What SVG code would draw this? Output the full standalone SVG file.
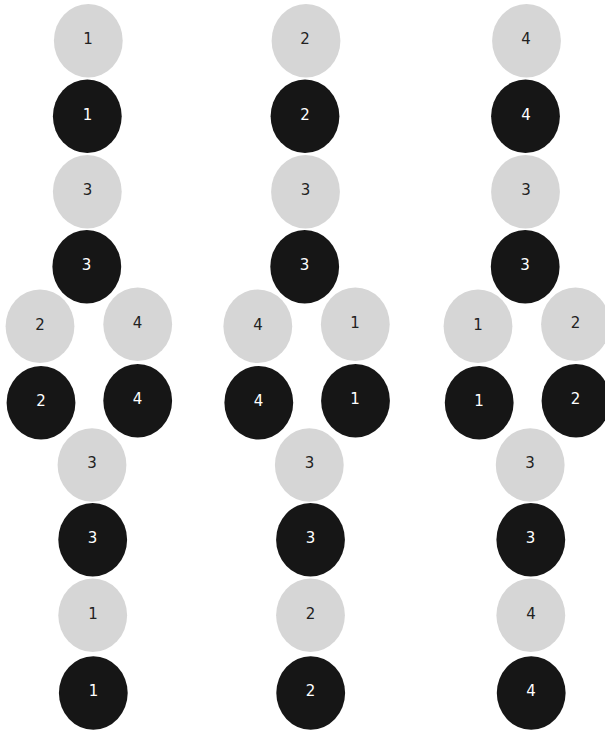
<svg xmlns="http://www.w3.org/2000/svg" width="605" height="733" viewBox="0 0 605 733">
<style>
.l{fill:#d6d6d6}
.d{fill:#161616}
text{font-family:"DejaVu Sans",sans-serif;font-size:15px;text-anchor:middle}
.lt{fill:#222}
.dt{fill:#fff}
</style>
<rect width="605" height="733" fill="#fff"/>
<g id="connectors"/>
<g id="a1"><ellipse class="l" cx="88.3" cy="40.7" rx="34.4" ry="36.8"/><text class="lt" x="88" y="44">1</text></g>
<g id="a2"><ellipse class="d" cx="87.3" cy="116.3" rx="34.4" ry="36.8"/><text class="dt" x="87.5" y="119.5">1</text></g>
<g id="a3"><ellipse class="l" cx="87.3" cy="191.7" rx="34.4" ry="36.8"/><text class="lt" x="87.5" y="195">3</text></g>
<g id="a4"><ellipse class="d" cx="86.8" cy="266.7" rx="34.4" ry="36.8"/><text class="dt" x="86.5" y="270">3</text></g>
<g id="a5"><ellipse class="l" cx="40" cy="326.3" rx="34.4" ry="36.8"/><text class="lt" x="40" y="329.5">2</text></g>
<g id="a6"><ellipse class="l" cx="137.7" cy="324.3" rx="34.4" ry="36.8"/><text class="lt" x="137.5" y="327.5">4</text></g>
<g id="a7"><ellipse class="d" cx="41" cy="402.7" rx="34.4" ry="36.8"/><text class="dt" x="41" y="406">2</text></g>
<g id="a8"><ellipse class="d" cx="137.7" cy="400.7" rx="34.4" ry="36.8"/><text class="dt" x="137.5" y="404">4</text></g>
<g id="a9"><ellipse class="l" cx="92" cy="465" rx="34.4" ry="36.8"/><text class="lt" x="92" y="468">3</text></g>
<g id="a10"><ellipse class="d" cx="92.7" cy="539.7" rx="34.4" ry="36.8"/><text class="dt" x="92.5" y="543">3</text></g>
<g id="a11"><ellipse class="l" cx="92.7" cy="615.3" rx="34.4" ry="36.8"/><text class="lt" x="93" y="618.5">1</text></g>
<g id="a12"><ellipse class="d" cx="93.3" cy="693" rx="34.4" ry="36.8"/><text class="dt" x="93.5" y="696">1</text></g>

<g id="b1"><ellipse class="l" cx="306" cy="40.7" rx="34.4" ry="36.8"/><text class="lt" x="305" y="44">2</text></g>
<g id="b2"><ellipse class="d" cx="305" cy="116.3" rx="34.4" ry="36.8"/><text class="dt" x="305" y="119.5">2</text></g>
<g id="b3"><ellipse class="l" cx="305.5" cy="191.7" rx="34.4" ry="36.8"/><text class="lt" x="305.5" y="195">3</text></g>
<g id="b4"><ellipse class="d" cx="304.7" cy="266.7" rx="34.4" ry="36.8"/><text class="dt" x="304.5" y="270">3</text></g>
<g id="b5"><ellipse class="l" cx="257.8" cy="326.3" rx="34.4" ry="36.8"/><text class="lt" x="258" y="329.5">4</text></g>
<g id="b6"><ellipse class="l" cx="355.3" cy="324.3" rx="34.4" ry="36.8"/><text class="lt" x="355" y="327.5">1</text></g>
<g id="b7"><ellipse class="d" cx="258.8" cy="402.7" rx="34.4" ry="36.8"/><text class="dt" x="258.5" y="406">4</text></g>
<g id="b8"><ellipse class="d" cx="355.5" cy="400.7" rx="34.4" ry="36.8"/><text class="dt" x="355" y="404">1</text></g>
<g id="b9"><ellipse class="l" cx="309.3" cy="465" rx="34.4" ry="36.8"/><text class="lt" x="309.5" y="468">3</text></g>
<g id="b10"><ellipse class="d" cx="310.5" cy="539.7" rx="34.4" ry="36.8"/><text class="dt" x="310.5" y="543">3</text></g>
<g id="b11"><ellipse class="l" cx="310.5" cy="615.3" rx="34.4" ry="36.8"/><text class="lt" x="310.5" y="618.5">2</text></g>
<g id="b12"><ellipse class="d" cx="310.7" cy="693" rx="34.4" ry="36.8"/><text class="dt" x="310.5" y="696">2</text></g>

<g id="c1"><ellipse class="l" cx="526.5" cy="40.7" rx="34.4" ry="36.8"/><text class="lt" x="526" y="44">4</text></g>
<g id="c2"><ellipse class="d" cx="525.5" cy="116.3" rx="34.4" ry="36.8"/><text class="dt" x="526" y="119.5">4</text></g>
<g id="c3"><ellipse class="l" cx="525.5" cy="191.7" rx="34.4" ry="36.8"/><text class="lt" x="526" y="195">3</text></g>
<g id="c4"><ellipse class="d" cx="525.2" cy="266.7" rx="34.4" ry="36.8"/><text class="dt" x="525" y="270">3</text></g>
<g id="c5"><ellipse class="l" cx="478" cy="326.3" rx="34.4" ry="36.8"/><text class="lt" x="478" y="329.5">1</text></g>
<g id="c6"><ellipse class="l" cx="575.5" cy="324.3" rx="34.4" ry="36.8"/><text class="lt" x="575.5" y="327.5">2</text></g>
<g id="c7"><ellipse class="d" cx="479.2" cy="402.7" rx="34.4" ry="36.8"/><text class="dt" x="479" y="406">1</text></g>
<g id="c8"><ellipse class="d" cx="576" cy="400.7" rx="34.4" ry="36.8"/><text class="dt" x="575.5" y="404">2</text></g>
<g id="c9"><ellipse class="l" cx="530.2" cy="465" rx="34.4" ry="36.8"/><text class="lt" x="530" y="468">3</text></g>
<g id="c10"><ellipse class="d" cx="530.8" cy="539.7" rx="34.4" ry="36.8"/><text class="dt" x="530.5" y="543">3</text></g>
<g id="c11"><ellipse class="l" cx="530.8" cy="615.3" rx="34.4" ry="36.8"/><text class="lt" x="531" y="618.5">4</text></g>
<g id="c12"><ellipse class="d" cx="531.2" cy="693" rx="34.4" ry="36.8"/><text class="dt" x="531" y="696">4</text></g>
</svg>
